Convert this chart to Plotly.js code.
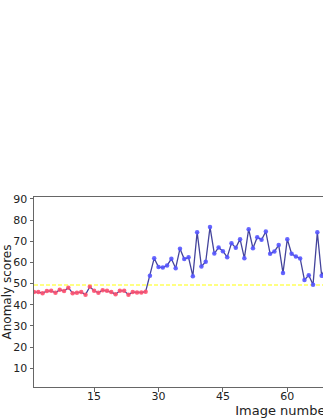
<!DOCTYPE html>
<html>
<head>
<meta charset="utf-8">
<script src="https://cdn.plot.ly/plotly-3.0.1.min.js"></script>
<style>
html, body { margin:0; padding:0; overflow:hidden; background:#fff; width:323px; height:418px; }
#chart { width:538px; height:418px; }
</style>
</head>
<body>
<div id="chart"></div>
<script>
// Image numbers (visible part of the chart)
const imageNumbers = [1,2,3,4,5,6,7,8,9,10,11,12,13,14,15,16,17,18,19,20,21,22,23,24,25,26,27,
  28,29,30,31,32,33,34,35,36,37,38,39,40,41,42,43,44,45,46,47,48,49,50,51,52,53,54,55,56,57,58,59,60,61,62,63,64,65,66,67,68,69];
// Anomaly scores
const anomalyScores = [46.0,46.0,45.5,46.5,46.6,45.7,47.1,46.5,48.1,45.5,45.7,46.0,44.8,48.5,46.6,45.7,46.9,46.6,46.0,45.0,46.6,46.6,44.8,46.0,45.8,45.8,46.2,
  53.7,62.0,57.8,57.6,58.6,61.7,57.3,66.5,61.6,62.4,53.5,74.3,58.1,60.3,76.7,64.2,67.1,65.3,62.5,69.1,66.9,71.0,62.0,75.7,66.7,71.9,70.7,74.6,64.1,65.2,68.2,55.0,71.0,64.1,62.8,61.9,51.7,54.0,49.5,74.2,53.7,58.0];
const threshold = 49.4;
const xTicks = [15, 30, 45, 60];
const yTicks = [10, 20, 30, 40, 50, 60, 70, 80, 90];

const markerColors = anomalyScores.map(v => v < threshold ? 'rgba(255,80,110,0.9)' : 'rgba(85,85,255,0.9)');

const traces = [{
  x: imageNumbers,
  y: anomalyScores,
  type: 'scatter',
  mode: 'lines+markers',
  line: {color: '#44449c', width: 1.3},
  marker: {color: markerColors, size: 4.5, line: {width: 0}},
  cliponaxis: true,
  showlegend: false
}];

const layout = {
  width: 538,
  height: 418,
  margin: {l: 34, r: 6, t: 196.5, b: 31.3},
  paper_bgcolor: '#fff',
  plot_bgcolor: '#fff',
  font: {family: 'DejaVu Sans', color: '#222', size: 11},
  xaxis: {
    range: [1, 117],
    tickvals: xTicks,
    ticktext: xTicks.map(String),
    ticks: 'outside', ticklen: 3.5, tickwidth: 1, tickcolor: '#666',
    ticklabelstandoff: -5,
    showline: true, linecolor: '#666', linewidth: 1, mirror: true,
    showgrid: false, zeroline: false,
    tickfont: {size: 11, color: '#222'},
    title: {text: 'Image number', font: {size: 13, color: '#222'}, standoff: 2}
  },
  yaxis: {
    range: [1.18, 90.9],
    tickvals: yTicks,
    ticktext: yTicks.map(String),
    ticks: 'outside', ticklen: 3.5, tickwidth: 1, tickcolor: '#666',
    showline: true, linecolor: '#666', linewidth: 1, mirror: true,
    showgrid: false, zeroline: false,
    tickfont: {size: 11, color: '#222'},
    title: {text: 'Anomaly scores', font: {size: 12, color: '#222'}, standoff: 4}
  },
  shapes: [{
    type: 'line', xref: 'paper', x0: 0, x1: 1, yref: 'y', y0: threshold, y1: threshold,
    line: {color: 'rgba(255,255,80,0.95)', width: 1.5, dash: '4px,2px'},
    layer: 'below'
  }]
};

Plotly.newPlot('chart', traces, layout, {displayModeBar: false, staticPlot: true});
</script>
</body>
</html>
